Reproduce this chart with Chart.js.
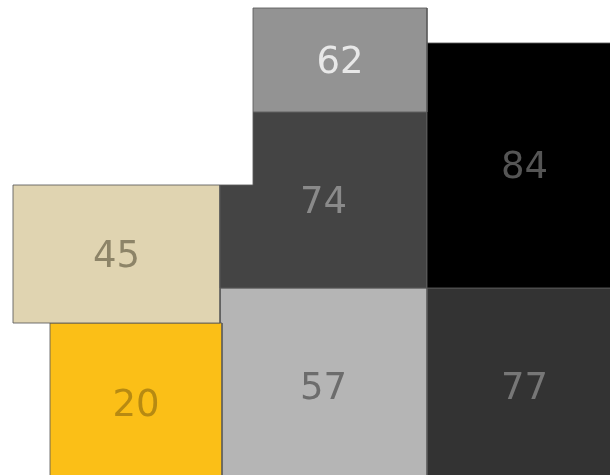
<!DOCTYPE html>
<html>
<head>
<meta charset="utf-8">
<script src="https://cdn.jsdelivr.net/npm/chart.js@4.4.0/dist/chart.umd.min.js"></script>
<style>
  html, body { margin: 0; padding: 0; background: #fff; }
  #wrap { width: 610px; height: 475px; position: relative; }
</style>
</head>
<body>
<div id="wrap"><canvas id="chart"></canvas></div>
<script>
  // cell values and their extents (in chart units, y measured downward)
  const values = [62, 84, 74, 45, 20, 57, 77];
  const x0 = [253, 427, 220, 13, 50, 220, 427];
  const x1 = [427, 622, 427, 220, 222, 427, 622];
  const y0 = [8, 43, 112, 185, 323, 288, 288];
  const y1 = [112, 288, 288, 323, 484, 484, 484];
  // top-left notch of a cell (cut out corner), null if none
  const notchX = [null, null, 253, null, null, null, null];
  const notchY = [null, null, 185, null, null, null, null];
  const fills = ['#939393', '#000000', '#444444', '#e0d4b1', '#fbbf17', '#b5b5b5', '#333333'];
  const textColors = ['#e8e8e8', '#555555', '#8a8a8a', '#8d8468', '#b78a12', '#6c6c6c', '#777777'];

  function cellPoints(i) {
    let pts;
    if (notchX[i] !== null) {
      pts = [
        {x: notchX[i], y: y0[i]}, {x: x1[i], y: y0[i]}, {x: x1[i], y: y1[i]},
        {x: x0[i], y: y1[i]}, {x: x0[i], y: notchY[i]}, {x: notchX[i], y: notchY[i]}
      ];
    } else {
      pts = [
        {x: x0[i], y: y0[i]}, {x: x1[i], y: y0[i]},
        {x: x1[i], y: y1[i]}, {x: x0[i], y: y1[i]}
      ];
    }
    pts.push(pts[0]);
    return pts;
  }

  const datasets = values.map((v, i) => ({
    label: String(v),
    data: cellPoints(i),
    showLine: true,
    fill: 'shape',
    backgroundColor: fills[i],
    borderColor: 'rgba(90,90,90,0.85)',
    borderWidth: 1,
    pointRadius: 0,
    tension: 0
  }));

  const fontSize = 37;
  const cellLabels = {
    id: 'cellLabels',
    afterDatasetsDraw(chart) {
      const ctx = chart.ctx, xs = chart.scales.x, ys = chart.scales.y;
      ctx.save();
      ctx.font = fontSize + 'px "DejaVu Sans", sans-serif';
      ctx.textAlign = 'center';
      ctx.textBaseline = 'alphabetic';
      values.forEach((v, i) => {
        const cx = xs.getPixelForValue((x0[i] + x1[i]) / 2);
        const cy = ys.getPixelForValue((y0[i] + y1[i]) / 2);
        ctx.fillStyle = textColors[i];
        // digits are ~0.73em tall, so put the baseline half of that below centre
        ctx.fillText(String(v), cx, cy + fontSize * 0.365 - 1);
      });
      ctx.restore();
    }
  };

  new Chart(document.getElementById('chart'), {
    type: 'scatter',
    data: { datasets: datasets },
    options: {
      responsive: true,
      maintainAspectRatio: false,
      animation: false,
      layout: { padding: 0 },
      scales: {
        x: { type: 'linear', min: 0, max: 610, display: false },
        y: { type: 'linear', min: 0, max: 475, reverse: true, display: false }
      },
      plugins: {
        legend: { display: false },
        tooltip: { enabled: false }
      }
    },
    plugins: [cellLabels]
  });
</script>
</body>
</html>
